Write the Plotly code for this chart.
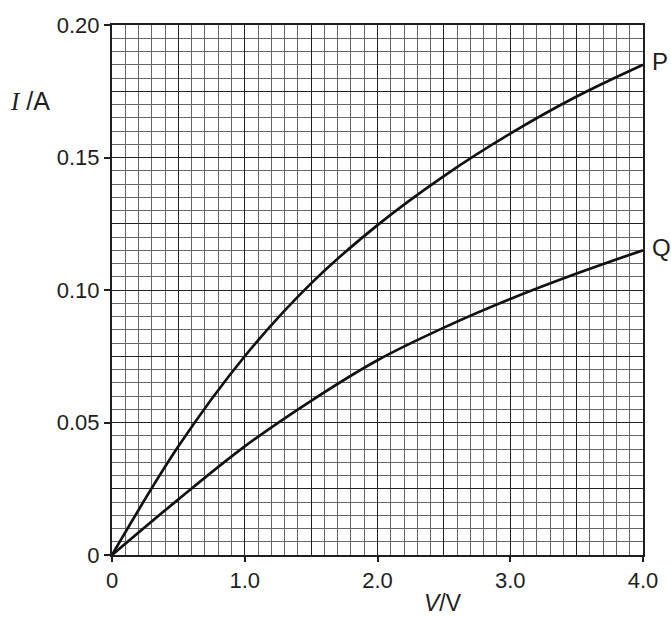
import plotly.graph_objects as go

# I-V characteristics of two components, P and Q
voltage = [0.0, 0.5, 1.0, 1.5, 2.0, 2.5, 3.0, 3.5, 4.0]
current_p = [0.0, 0.041, 0.075, 0.1025, 0.1245, 0.143, 0.159, 0.173, 0.185]
current_q = [0.0, 0.021, 0.041, 0.0582, 0.0735, 0.0858, 0.0966, 0.1062, 0.115]

x_tick_vals = [0, 1, 2, 3, 4]
x_tick_text = ["0", "1.0", "2.0", "3.0", "4.0"]
y_tick_vals = [0, 0.05, 0.10, 0.15, 0.20]
y_tick_text = ["0", "0.05", "0.10", "0.15", "0.20"]

x_major_grid = [i * 0.5 for i in range(9)]
y_major_grid = [i * 0.025 for i in range(9)]

FONT = "Liberation Sans, Arial, Helvetica, sans-serif"
INK = "#1e1e1e"
MAJOR = "#222222"
MINOR = "#666666"

fig = go.Figure()

for name, cur in (("P", current_p), ("Q", current_q)):
    fig.add_trace(go.Scatter(
        x=voltage, y=cur, mode="lines", name=name,
        line=dict(color="#111111", width=2.7, shape="spline", smoothing=1.0),
        hoverinfo="skip", showlegend=False,
    ))
    fig.add_annotation(
        x=voltage[-1], y=cur[-1], xref="x", yref="y",
        text=name, showarrow=False, xanchor="left", yanchor="middle",
        xshift=7, yshift=3, font=dict(family=FONT, size=24, color=INK),
    )

# carrier trace for the labelled tick axes
fig.add_trace(go.Scatter(x=[], y=[], xaxis="x2", yaxis="y2",
                         showlegend=False, hoverinfo="skip"))

grid_common = dict(
    showticklabels=False, ticks="", showgrid=True, gridcolor=MAJOR,
    gridwidth=1.4, zeroline=False, showline=True, mirror=True,
    linecolor=INK, linewidth=2.2, fixedrange=True,
)

tick_common = dict(
    tickmode="array", ticks="outside", tickwidth=1.6, tickcolor=INK,
    showgrid=False, zeroline=False, showline=False,
    tickfont=dict(family=FONT, size=22, color=INK), fixedrange=True,
)

fig.update_layout(
    width=671, height=617,
    margin=dict(l=112, r=28, t=25, b=62),
    paper_bgcolor="white", plot_bgcolor="white",
    xaxis=dict(range=[0, 4], tickmode="array", tickvals=x_major_grid,
               minor=dict(dtick=0.1, showgrid=True, gridcolor=MINOR,
                          gridwidth=1, ticks=""),
               **grid_common),
    yaxis=dict(range=[0, 0.20], tickmode="array", tickvals=y_major_grid,
               minor=dict(dtick=0.005, showgrid=True, gridcolor=MINOR,
                          gridwidth=1, ticks=""),
               **grid_common),
    xaxis2=dict(range=[0, 4], overlaying="x", anchor="y2", side="bottom",
                tickvals=x_tick_vals, ticktext=x_tick_text, ticklen=6,
                **tick_common),
    yaxis2=dict(range=[0, 0.20], overlaying="y", anchor="x2", side="left",
                tickvals=y_tick_vals, ticktext=y_tick_text, ticklen=7,
                **tick_common),
)

# axis titles
fig.add_annotation(
    x=-0.154, y=0.857, xref="paper", yref="paper", showarrow=False,
    xanchor="center", yanchor="middle",
    text="<span style='font-family:Liberation Serif, Times New Roman, serif'><i>I</i></span> /A",
    font=dict(family=FONT, size=25, color=INK),
)
fig.add_annotation(
    x=0.623, y=-0.091, xref="paper", yref="paper", showarrow=False,
    xanchor="center", yanchor="middle",
    text="<i>V</i>/V",
    font=dict(family=FONT, size=23, color=INK),
)

fig.write_html("out.html")
